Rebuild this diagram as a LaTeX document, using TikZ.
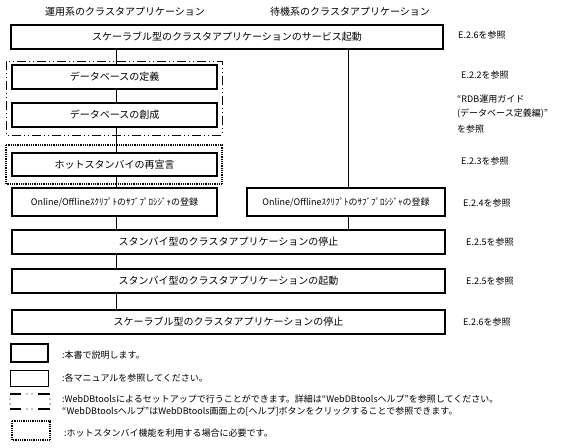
\documentclass[tikz,border=0pt]{standalone}
\usepackage{fontspec}
\setmainfont{Noto Sans CJK JP}
\usetikzlibrary{shadows}
\begin{document}
\begin{tikzpicture}[x=1pt,y=-1pt,
  every node/.style={font=\fontsize{10}{12}\selectfont, inner sep=0pt},
  boxm/.style={draw, line width=1.2pt, fill=white, drop shadow={shadow xshift=1.2pt, shadow yshift=-1.2pt, fill=black, opacity=1}},
  boxk/.style={draw, line width=2.4pt, fill=white},
  lbl/.style={anchor=west, font=\fontsize{9}{11}\selectfont},
  conn/.style={line width=0.8pt},
  dashdot/.style={line width=1pt, dash pattern=on 9pt off 3pt on 1pt off 3pt on 1pt off 3pt},
  dotbox/.style={line width=1.1pt, dash pattern=on 0.9pt off 0.9pt}]
\useasboundingbox (0,0) rectangle (575,447);
% group frames
\draw[dashdot] (6,61) rectangle (222,135);
\draw[dotbox] (6,145) rectangle (222,184);
% headers
\node (h1) at (125,12) {運用系のクラスタアプリケーション};
\node (h2) at (350,12) {待機系のクラスタアプリケーション};
% boxes
\node[boxm, minimum width=432, minimum height=24] (b1) at (227,37) {スケーラブル型のクラスタアプリケーションのサービス起動};
\node[boxk, minimum width=205, minimum height=24] (def) at (114.5,77) {データベースの定義};
\node[boxm, minimum width=205, minimum height=24] (cre) at (114.5,115) {データベースの創成};
\node[boxk, minimum width=205, minimum height=23] (hot) at (114.5,164.5) {ホットスタンバイの再宣言};
\node[boxk, minimum width=205, minimum height=28, font=\fontsize{9}{11}\selectfont] (onl) at (114.5,202) {Online/Offlineｽｸﾘﾌﾟﾄのｻﾌﾞﾌﾟﾛｼｼﾞｬの登録};
\node[boxk, minimum width=198, minimum height=28, font=\fontsize{9}{11}\selectfont] (onr) at (346,202) {Online/Offlineｽｸﾘﾌﾟﾄのｻﾌﾞﾌﾟﾛｼｼﾞｬの登録};
\node[boxm, minimum width=433, minimum height=24] (sts) at (228.5,242) {スタンバイ型のクラスタアプリケーションの停止};
\node[boxm, minimum width=433, minimum height=24] (sta) at (228.5,281) {スタンバイ型のクラスタアプリケーションの起動};
\node[boxm, minimum width=433, minimum height=24] (stc) at (228.5,322) {スケーラブル型のクラスタアプリケーションの停止};
% connector columns
\coordinate (xl) at (116,0);
\coordinate (xr) at (348,0);
\draw[conn] (b1.south -| xl) -- (def.north -| xl);
\draw[conn] (def.south -| xl) -- (cre.north -| xl);
\draw[conn] (cre.south -| xl) -- (hot.north -| xl);
\draw[conn] (hot.south -| xl) -- (onl.north -| xl);
\draw[conn] (onl.south -| xl) -- (sts.north -| xl);
\draw[conn] (sts.south -| xl) -- (sta.north -| xl);
\draw[conn] (sta.south -| xl) -- (stc.north -| xl);
\draw[conn] (b1.south -| xr) -- (onr.north -| xr);
\draw[conn] (onr.south -| xr) -- (sts.north -| xr);
% reference labels
\node[lbl] (r1) at (458,35) {E.2.6を参照};
\node[lbl] (r2) at (461,75) {E.2.2を参照};
\node[lbl] (r3a) at (457,99) {“RDB運用ガイド};
\node[lbl] (r3b) at (457,114) {(データベース定義編)”};
\node[lbl] (r3c) at (457,129) {を参照};
\node[lbl] (r4) at (461,161) {E.2.3を参照};
\node[lbl] (r5) at (463,203) {E.2.4を参照};
\node[lbl] (r6) at (466,242) {E.2.5を参照};
\node[lbl] (r7) at (466,281) {E.2.5を参照};
\node[lbl] (r8) at (463,322) {E.2.6を参照};
% legend
\node[boxk, minimum width=37, minimum height=18] (lg1) at (29.5,353) {};
\node[draw, line width=0.9pt, minimum width=38, minimum height=16] (lg2) at (29,378) {};
% dash-dot legend sample
\begin{scope}[line width=1.2pt]
\draw (10,394) -- (21,394);
\draw (38,394) -- (50,394);
\draw (10,409) -- (21,409);
\draw (38,409) -- (50,409);
\end{scope}
\foreach \p in {(27,394),(32,394),(27,409),(32,409),(10,399),(10,404),(50,399),(50,404)}
  \fill \p circle (0.6);
\draw[dotbox] (12,421) rectangle (50,440);
\node[lbl] (t1) at (62,355) {:本書で説明します。};
\node[lbl] (t2) at (62,378) {:各マニュアルを参照してください。};
\node[lbl] (t3) at (62,399) {:WebDBtoolsによるセットアップで行うことができます。詳細は“WebDBtoolsヘルプ”を参照してください。};
\node[lbl] (t4) at (62,411) {“WebDBtoolsヘルプ”はWebDBtools画面上の[ヘルプ]ボタンをクリックすることで参照できます。};
\node[lbl] (t5) at (64,433) {:ホットスタンバイ機能を利用する場合に必要です。};
\end{tikzpicture}
\end{document}
